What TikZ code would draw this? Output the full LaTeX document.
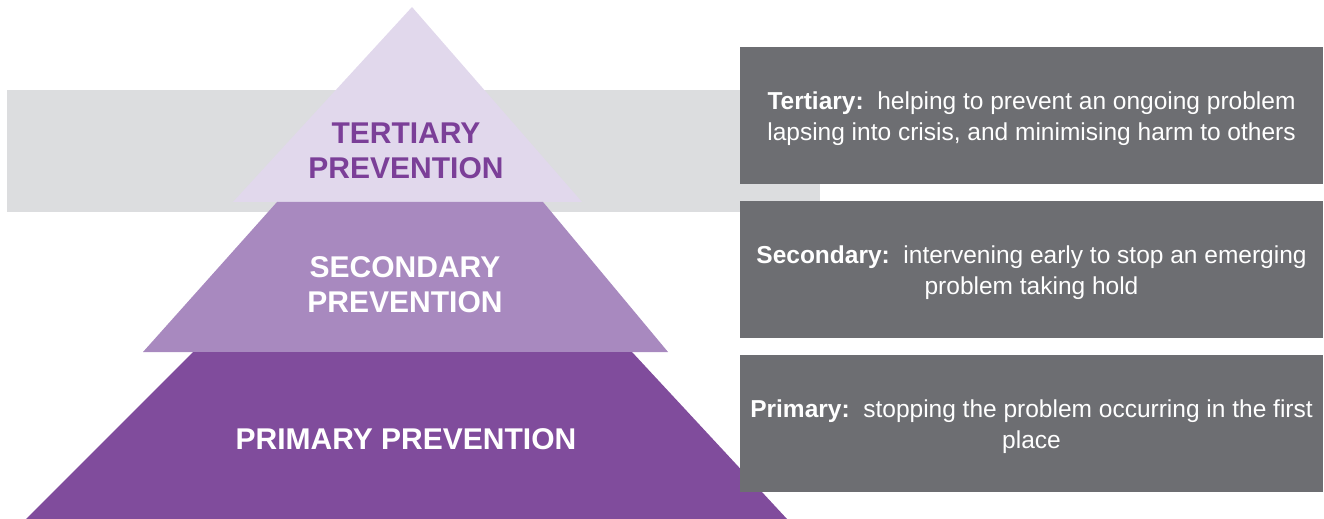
\documentclass[tikz,border=0pt]{standalone}
\usepackage{fontspec}
\setmainfont{Liberation Sans}
\definecolor{lav}{HTML}{E1D8EC}
\definecolor{midp}{HTML}{A889BF}
\definecolor{darkp}{HTML}{804C9C}
\definecolor{bandgrey}{HTML}{DCDDDF}
\definecolor{boxgrey}{HTML}{6D6E72}
\definecolor{ptext}{HTML}{7B3F98}
\begin{document}
\begin{tikzpicture}[x=1bp,y=-1bp,
  tier/.style={font=\fontsize{30bp}{35bp}\selectfont\bfseries, align=center, inner sep=0pt},
  gbox/.style={fill=boxgrey, draw=none, minimum width=583bp, minimum height=137bp, inner sep=0pt},
  desc/.style={font=\fontsize{24.5bp}{31bp}\selectfont, text=white, align=center, inner sep=0pt}]
\useasboundingbox (0,0) rectangle (1324,519);
% background band
\fill[bandgrey] (7,90) rectangle (820,212);
% pyramid tiers
\fill[lav] (412,7) -- (582,202) -- (233,202) -- cycle;
\fill[midp] (277,202) -- (543,202) -- (668,352) -- (143,352) -- cycle;
\fill[darkp] (193,352) -- (632,352) -- (787,519) -- (26,519) -- cycle;
% tier labels
\node[tier, text=ptext] (t3) at (406,151) {TERTIARY\\PREVENTION};
\node[tier, text=white] (t2) at (405,285) {SECONDARY\\PREVENTION};
\node[tier, text=white] (t1) at (406,439) {PRIMARY PREVENTION};
% description boxes
\node[gbox] (b3) at (1031.5,115.5) {};
\node[gbox] (b2) at (1031.5,269.5) {};
\node[gbox] (b1) at (1031.5,423.5) {};
\node[desc] (d3) at ([yshift=-3bp]b3.center) {\textbf{Tertiary:}\ \ helping to prevent an ongoing problem\\lapsing into crisis, and minimising harm to others};
\node[desc] (d2) at ([yshift=-3bp]b2.center) {\textbf{Secondary:}\ \ intervening early to stop an emerging\\problem taking hold};
\node[desc] (d1) at ([yshift=-3bp]b1.center) {\textbf{Primary:}\ \ stopping the problem occurring in the first\\place};
\end{tikzpicture}
\end{document}
